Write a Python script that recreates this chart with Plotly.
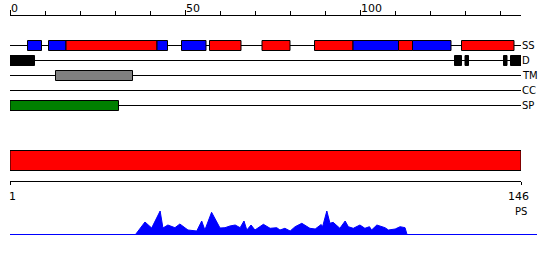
import plotly.graph_objects as go

# ---------------- data ----------------
seq_len = 146
axis_major = [0, 50, 100]

ss_start = [5, 11, 16, 42, 49, 57, 72, 87, 98, 111, 115, 129]
ss_end   = [9, 16, 42, 45, 56, 66, 80, 98, 111, 115, 126, 144]
ss_type  = ["E", "E", "H", "E", "E", "H", "H", "H", "E", "H", "E", "H"]

d_start = [0, 127, 130, 141, 143]
d_end   = [7, 129, 131, 142, 146]

tm_start = [13]
tm_end   = [35]

cc_start = []
cc_end   = []

sp_start = [0]
sp_end   = [31]

track_names = ["SS", "D", "TM", "CC", "SP"]

ps_pos = [36.5, 39.3, 41.2, 43.6, 44.4, 45.8, 47.8, 49.2, 51.5, 54.0, 55.4, 56.3,
          58.2, 60.6, 62.0, 63.4, 64.9, 66.3, 67.4, 68.2, 69.4, 70.5, 72.9, 74.8,
          76.7, 77.6, 79.0, 80.5, 81.9, 83.8, 86.1, 87.6, 89.3, 89.7, 90.9, 91.8,
          92.7, 94.6, 96.1, 97.0, 98.4, 100.3, 101.7, 103.0, 103.6, 105.1, 107.4,
          108.4, 110.3, 111.7, 113.1, 113.7]
ps_val = [0, 13, 7, 24, 7, 10, 7.3, 11, 5, 4, 14, 5,
          22.7, 7, 7.3, 9, 10, 7.3, 14, 5, 10, 5, 10.7, 6.7,
          7.3, 5, 6.7, 4, 8.3, 11.7, 6.7, 6, 10.5, 8.3, 24, 11.7,
          12.7, 6.7, 14, 8.3, 6.7, 10, 6.7, 8.3, 5, 10, 7.3,
          5, 6, 8.3, 7.3, 0]

# ---------------- layout helpers ----------------
W, H = 550, 260
X0, X1 = 10, 521
track_y = [45, 60, 75, 90, 105]
box_h = 10
FONT = "DejaVu Sans"
FS = 10

def py(p):  # pixel y -> paper y
    return 1 - p / H

colors_ss = {"H": "#FF0000", "E": "#0000FF"}

fig = go.Figure()
fig.add_trace(go.Scatter(x=[None], y=[None], xaxis="x", yaxis="y", showlegend=False, hoverinfo="skip"))
fig.add_trace(go.Scatter(x=ps_pos, y=ps_val, xaxis="x2", yaxis="y2", mode="lines",
                         fill="tozeroy", fillcolor="#0000FF",
                         line=dict(color="#0000FF", width=1), showlegend=False, hoverinfo="skip"))

shapes = []
# track base lines
for ty in track_y:
    shapes.append(dict(type="line", xref="x", yref="y", x0=0, x1=seq_len, y0=ty + 0.5, y1=ty + 0.5,
                       line=dict(color="black", width=1), layer="below"))

def boxes(starts, ends, ty, colors):
    for s, e, c in zip(starts, ends, colors):
        shapes.append(dict(type="rect", xref="x", yref="y", x0=s, x1=e,
                           y0=ty - box_h / 2 + 0.5, y1=ty + box_h / 2 + 0.5,
                           fillcolor=c, line=dict(color="black", width=1)))

boxes(ss_start, ss_end, track_y[0], [colors_ss[t] for t in ss_type])
boxes(d_start, d_end, track_y[1], ["black"] * len(d_start))
boxes(tm_start, tm_end, track_y[2], ["#808080"] * len(tm_start))
boxes(cc_start, cc_end, track_y[3], ["#FFFF00"] * len(cc_start))
boxes(sp_start, sp_end, track_y[4], ["#008000"] * len(sp_start))

# full-length protein bar
shapes.append(dict(type="rect", xref="x2", yref="y", x0=1, x1=seq_len, y0=150.5, y1=170.5,
                   fillcolor="#FF0000", line=dict(color="black", width=1)))
# PS baseline
shapes.append(dict(type="line", xref="paper", yref="y2", x0=X0 / W, x1=537 / W, y0=0, y1=0,
                   line=dict(color="#0000FF", width=2)))

annotations = []
for v in axis_major:
    annotations.append(dict(x=v, y=8, xref="x", yref="y", text=str(v), showarrow=False,
                            xanchor="left", yanchor="middle", xshift=-1,
                            font=dict(family=FONT, size=11, color="black")))
for name, ty in zip(track_names, track_y):
    annotations.append(dict(x=seq_len, y=ty + 0.5, xref="x", yref="y", text=name, showarrow=False,
                            xanchor="left", yanchor="middle", xshift=-1,
                            font=dict(family=FONT, size=FS, color="black")))
annotations.append(dict(x=1, y=196, xref="x2", yref="y", text="1", showarrow=False,
                        xanchor="left", yanchor="middle", xshift=-3,
                        font=dict(family=FONT, size=11, color="black")))
annotations.append(dict(x=seq_len, y=196, xref="x2", yref="y", text=str(seq_len), showarrow=False,
                        xanchor="right", yanchor="middle", xshift=10,
                        font=dict(family=FONT, size=11, color="black")))
annotations.append(dict(x=seq_len, y=211, xref="x2", yref="y", text="PS", showarrow=False,
                        xanchor="right", yanchor="middle", xshift=8,
                        font=dict(family=FONT, size=FS, color="black")))

dom = [X0 / W, X1 / W]
fig.update_layout(
    width=W, height=H, margin=dict(l=0, r=0, t=0, b=0),
    paper_bgcolor="white", plot_bgcolor="white",
    showlegend=False,
    xaxis=dict(domain=dom, range=[0, seq_len], anchor="free", position=py(15), side="top",
               showline=True, linecolor="black", linewidth=1, showgrid=False, zeroline=False,
               tickmode="array", tickvals=axis_major, ticks="outside", ticklen=5, tickcolor="black",
               showticklabels=False,
               minor=dict(dtick=10, tick0=0, ticks="outside", ticklen=4, tickcolor="black", showgrid=False)),
    yaxis=dict(domain=[0, 1], range=[H, 0], visible=False, fixedrange=True),
    xaxis2=dict(domain=dom, range=[1, seq_len], anchor="free", position=py(181), side="bottom",
                showline=True, linecolor="black", linewidth=1, showgrid=False, zeroline=False,
                tickmode="array", tickvals=[1, seq_len], ticks="outside", ticklen=3, tickcolor="black",
                showticklabels=False),
    yaxis2=dict(domain=[py(235), py(205)], range=[0, 30], anchor="x2", visible=False),
    shapes=shapes, annotations=annotations,
)

fig.write_html("out.html")
